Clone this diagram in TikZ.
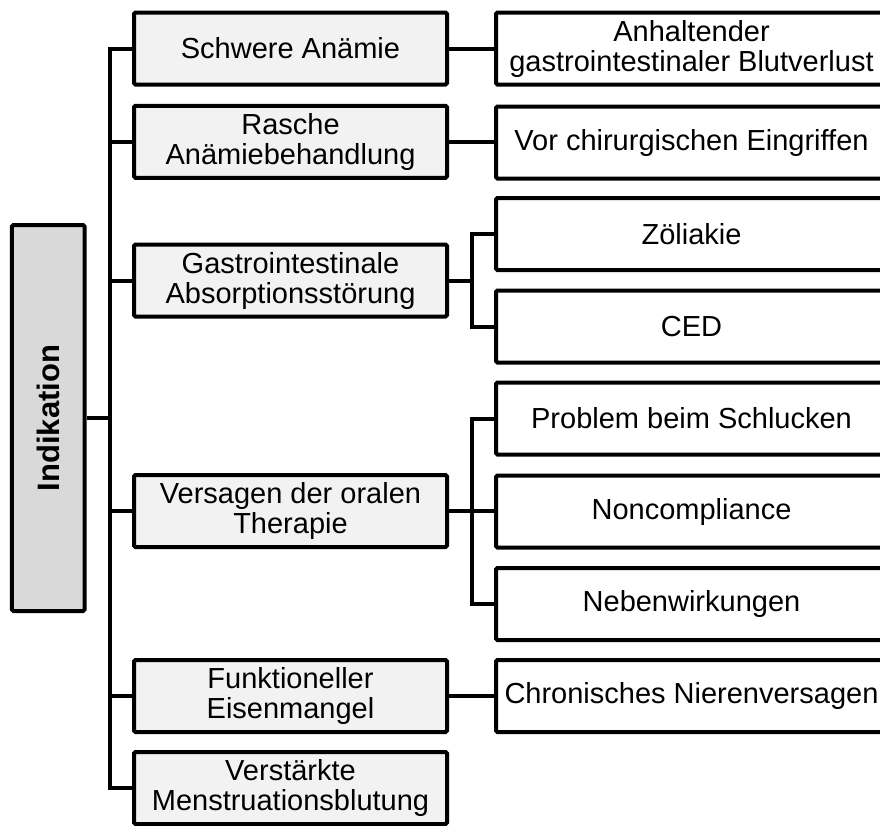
\documentclass[tikz,border=0pt]{standalone}
\usepackage{fontspec}
\setmainfont{Liberation Sans}
\definecolor{lgrey}{HTML}{F2F2F2}
\definecolor{mgrey}{HTML}{D9D9D9}
\begin{document}
\begin{tikzpicture}[x=1pt,y=-1pt,
  box/.style={draw=black, line width=4pt, rounded corners=1.5pt, align=center, inner sep=0pt,
              font=\fontsize{29}{30}\selectfont, minimum height=72pt},
  lbox/.style={box, fill=lgrey, minimum width=313pt},
  rbox/.style={box, fill=white, minimum width=391pt},
  ibox/.style={box, fill=mgrey, minimum width=72.7pt, minimum height=386pt,
               font=\fontsize{31}{32}\selectfont\bfseries},
  conn/.style={draw=black, line width=4pt}]
\useasboundingbox (0,0) rectangle (880,825);
\clip (0,0) rectangle (880,825);

% root
\node[ibox] (ind) at (48.3,418) {\rotatebox{90}{Indikation}};

% left column
\node[lbox] (schw)  at (290.5,48.5)  {Schwere Anämie};
\node[lbox] (rasch) at (290.5,141.8) {Rasche\\Anämiebehandlung};
\node[lbox] (gast)  at (290.5,280.5) {Gastrointestinale\\Absorptionsstörung};
\node[lbox] (vers)  at (290.5,511)   {Versagen der oralen\\Therapie};
\node[lbox] (funk)  at (290.5,696)   {Funktioneller\\Eisenmangel};
\node[lbox] (verst) at (290.5,788)   {Verstärkte\\Menstruationsblutung};

% right column
\node[rbox] (anh)   at (691.5,48.5)  {Anhaltender\\gastrointestinaler Blutverlust};
\node[rbox] (vor)   at (691.5,142.5) {Vor chirurgischen Eingriffen};
\node[rbox] (zol)   at (691.5,234)   {Zöliakie};
\node[rbox] (ced)   at (691.5,326.5) {CED};
\node[rbox] (prob)  at (691.5,418.5) {Problem beim Schlucken};
\node[rbox] (non)   at (691.5,511.5) {Noncompliance};
\node[rbox] (neb)   at (691.5,604)   {Nebenwirkungen};
\node[rbox] (chron) at (691.5,696)   {Chronisches Nierenversagen};

% trunk coordinates
\coordinate (t) at (110,418);
\coordinate (s) at (472,418);

% main trunk
\draw[conn] (schw.west) -- (schw.west -| t) -- (verst.west -| t) -- (verst.west);
\draw[conn] (ind.east) -- (t);
\draw[conn] (rasch.west -| t) -- (rasch.west);
\draw[conn] (gast.west -| t) -- (gast.west);
\draw[conn] (vers.west -| t) -- (vers.west);
\draw[conn] (funk.west -| t) -- (funk.west);

% direct links
\draw[conn] (schw.east) -- (anh.west);
\draw[conn] (rasch.east) -- (rasch.east -| vor.west);
\draw[conn] (funk.east) -- (chron.west);

% sub trunk for Gastrointestinale
\draw[conn] (zol.west) -- (zol.west -| s) -- (ced.west -| s) -- (ced.west);
\draw[conn] (gast.east) -- (gast.east -| s);

% sub trunk for Versagen
\draw[conn] (prob.west) -- (prob.west -| s) -- (neb.west -| s) -- (neb.west);
\draw[conn] (vers.east) -- (vers.east -| non.west);
\end{tikzpicture}
\end{document}
